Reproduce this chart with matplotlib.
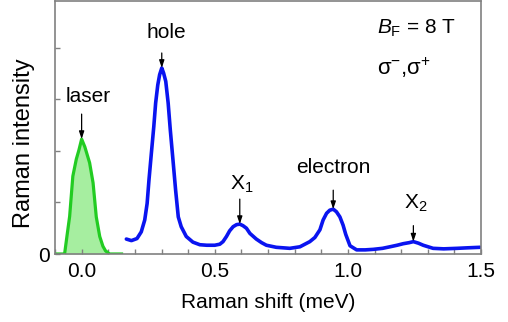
import matplotlib
matplotlib.use("Agg")
import matplotlib.pyplot as plt

plt.rcParams['font.family'] = ['Liberation Sans', 'DejaVu Sans']
plt.rcParams['mathtext.fontset'] = 'custom'
plt.rcParams['mathtext.rm'] = 'Liberation Sans'
plt.rcParams['mathtext.it'] = 'Liberation Sans:italic'

# Laser line (green)
laser_x = [-0.10, -0.064, -0.055, -0.045, -0.033, -0.020, -0.010, 0.000, 0.012, 0.030,
           0.043, 0.055, 0.068, 0.080, 0.090, 0.105, 0.150]
laser_y = [0.00, 0.00, 0.35, 0.73, 1.51, 1.84, 2.02, 2.23, 2.08, 1.77,
           1.38, 0.72, 0.34, 0.15, 0.06, 0.00, 0.00]

# Raman spectrum (blue)
spec_x = [0.168, 0.187, 0.208, 0.224, 0.237, 0.246, 0.253, 0.262, 0.271, 0.278, 0.286, 0.293,
          0.301, 0.308, 0.316, 0.325, 0.333, 0.343, 0.353, 0.363, 0.374, 0.393, 0.418, 0.444,
          0.470, 0.500, 0.519, 0.531, 0.544, 0.556, 0.569, 0.582, 0.594, 0.606, 0.619, 0.632,
          0.656, 0.676, 0.694, 0.731, 0.782, 0.820, 0.857, 0.876, 0.895, 0.907, 0.920, 0.932,
          0.945, 0.957, 0.970, 0.982, 0.992, 1.008, 1.033, 1.065, 1.095, 1.130, 1.158, 1.185,
          1.208, 1.230, 1.246, 1.265, 1.283, 1.320, 1.360, 1.410, 1.450, 1.496]
spec_y = [0.29, 0.26, 0.30, 0.43, 0.66, 0.98, 1.44, 1.96, 2.47, 2.93, 3.28, 3.48,
          3.61, 3.51, 3.35, 2.93, 2.41, 1.83, 1.24, 0.72, 0.53, 0.34, 0.23, 0.18,
          0.17, 0.17, 0.19, 0.24, 0.34, 0.45, 0.53, 0.57, 0.58, 0.55, 0.50, 0.40,
          0.29, 0.22, 0.17, 0.13, 0.11, 0.14, 0.24, 0.32, 0.47, 0.66, 0.79, 0.85,
          0.87, 0.82, 0.72, 0.56, 0.38, 0.16, 0.08, 0.08, 0.09, 0.11, 0.14, 0.17,
          0.20, 0.22, 0.24, 0.21, 0.17, 0.11, 0.10, 0.11, 0.12, 0.13]

x_major = [0.0, 0.5, 1.0, 1.5]
x_major_labels = ["0.0", "0.5", "1.0", "1.5"]
y_major = [0, 1, 2, 3, 4]
y_major_labels = ["0", "", "", "", ""]

# peak annotations
peak_labels = ["laser", "hole", "X$_1$", "electron", "X$_2$"]
peak_x = [0.0, 0.301, 0.594, 0.945, 1.246]
peak_y = [2.23, 3.61, 0.58, 0.87, 0.24]
# pixel offsets: text dx, text baseline dy, arrow start dy, arrow end dy
text_dx = [7, 5, 2, 0, 2]
text_dy = [37, 30, 34, 36, 33]
arrow_from = [29, 21, 30, 25, 24]
arrow_to = [4, 6, 5, 6, 8]

W, H = 508, 322
fig = plt.figure(figsize=(W / 100, H / 100), dpi=100)
ax = fig.add_axes([55 / W, 1 - 254 / H, (481 - 55) / W, (254 - 1) / H])

ax.fill_between(laser_x, laser_y, 0, color='#a6eea0', lw=0)
ax.plot(laser_x, laser_y, color='#22cc22', lw=2.3, solid_joinstyle='round')
ax.plot(spec_x, spec_y, color='#0a14f0', lw=2.6, solid_joinstyle='round',
        solid_capstyle='round')

ax.set_xlim(-0.1, 1.5)
ax.set_ylim(0, 4.91)
ax.set_xticks(x_major)
ax.set_xticklabels(x_major_labels)
ax.set_xticks([i / 10 for i in range(-1, 16)], minor=True)
ax.set_yticks(y_major)
ax.set_yticklabels(y_major_labels)

for s in ax.spines.values():
    s.set_color('#808080')
    s.set_linewidth(1.2)
ax.tick_params(which='both', direction='in', color='#808080', length=3.5, width=1.0,
               labelsize=15, top=False, right=False, pad=4)
ax.tick_params(axis='x', pad=6)

fig.text(268 / W, 1 - 303 / H, "Raman shift (meV)", fontsize=15, ha='center', va='center')
fig.text(24 / W, 1 - 143 / H, "Raman intensity", fontsize=17, ha='center', va='center',
         rotation=90)

for lab, px, py, dx, dy, a0, a1 in zip(peak_labels, peak_x, peak_y, text_dx, text_dy,
                                       arrow_from, arrow_to):
    ax.annotate("", xy=(px, py), xycoords='data',
                xytext=(0, a0 - a1), textcoords='offset pixels',
                arrowprops=dict(arrowstyle='-|>,head_length=0.45,head_width=0.15',
                                color='black', lw=0.9, shrinkA=0, shrinkB=0,
                                relpos=(0.5, 0.5)),
                annotation_clip=False)
    ax.annotate(lab, xy=(px, py), xycoords='data',
                xytext=(dx, dy), textcoords='offset pixels',
                ha='center', va='baseline', fontsize=15)

fig.text(377 / W, 1 - 28 / H, r"$\mathit{B}_\mathrm{F}$ = 8 T", ha='left', va='center',
         fontsize=15)
fig.text(377 / W, 1 - 75 / H, r"σ$^{\mathrm{-}}$,σ$^{\mathrm{+}}$", ha='left',
         va='baseline', fontsize=16)

fig.savefig("out.png", dpi=100)
